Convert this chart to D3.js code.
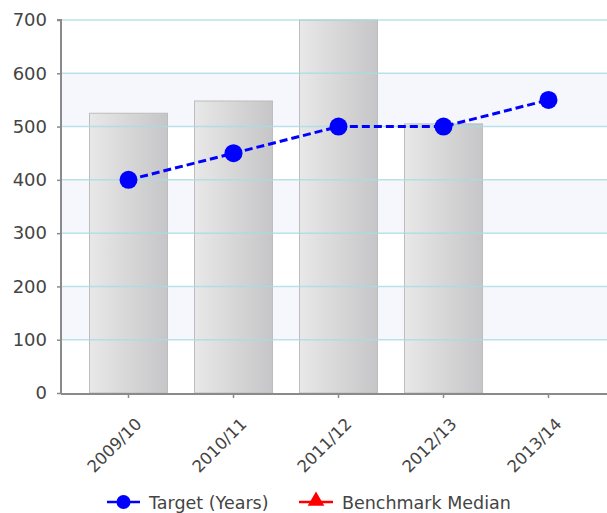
<!DOCTYPE html>
<html><head><meta charset="utf-8">
<script src="https://cdn.jsdelivr.net/npm/d3@7"></script>
<style>body{margin:0;background:#fff}svg{display:block}</style>
</head><body>
<svg id="c" width="607" height="513"></svg>
<script>
const categories = ["2009/10","2010/11","2011/12","2012/13","2013/14"];
const barValues = [525, 548, 700, 505, null];
const targetValues = [400, 450, 500, 500, 550];
const yTicks = [0,100,200,300,400,500,600,700];
const legendLabels = ["Target (Years)", "Benchmark Median"];

(function(){
const svg = d3.select("#c");
const pl = 61, pr = 607, pt = 20, pb = 393;
const x = d3.scaleBand().domain(categories).range([76, 601]);
const y = d3.scaleLinear().domain([0,700]).range([pb, pt]);
const font = "'DejaVu Sans', Verdana, sans-serif";

const defs = svg.append("defs");
const g = defs.append("linearGradient").attr("id","barg").attr("x1","0").attr("x2","1").attr("y1","0").attr("y2","0");
g.append("stop").attr("offset","0").attr("stop-color","#e8e8e8");
g.append("stop").attr("offset","1").attr("stop-color","#c6c6c8");

// alternating bands
for (let i = 1; i < yTicks.length - 1; i += 2) {
  svg.append("rect").attr("x", pl).attr("width", pr-pl)
    .attr("y", y(yTicks[i+1])).attr("height", y(yTicks[i]) - y(yTicks[i+1]))
    .attr("fill", "#f6f7fd");
}

// bars
const bw = 78;
svg.selectAll("rect.bar").data(categories.map((c,i)=>({c, v: barValues[i]})).filter(d=>d.v!=null))
  .enter().append("rect").attr("class","bar")
  .attr("x", d => x(d.c) + x.bandwidth()/2 - bw/2)
  .attr("width", bw)
  .attr("y", d => y(d.v)).attr("height", d => pb - y(d.v))
  .attr("fill", "url(#barg)").attr("stroke", "#bdbdbd").attr("stroke-width", 1);

// gridlines
svg.selectAll("line.grid").data(yTicks.filter(t=>t>0)).enter().append("line")
  .attr("x1", pl).attr("x2", pr).attr("y1", d=>y(d)).attr("y2", d=>y(d))
  .attr("stroke", "#a8dbe3").attr("stroke-width", 1.5).attr("stroke-opacity", 0.8);

// y axis
const yAxis = svg.append("g").attr("transform", `translate(${pl},0)`)
  .call(d3.axisLeft(y).tickValues(yTicks).tickSize(4).tickPadding(10));
yAxis.select(".domain").attr("stroke", "#8a8a8a").attr("stroke-width", 2).attr("d", `M-4,${pt}H0V${pb+1}`);
yAxis.selectAll(".tick line").attr("stroke", "#8a8a8a").attr("stroke-width", 1.5);
yAxis.selectAll("text").attr("font-family", font).attr("font-size", "18px").attr("fill", "#444");

// x axis
const xAxis = svg.append("g").attr("transform", `translate(0,${pb+1})`)
  .call(d3.axisBottom(x).tickSize(4).tickPadding(6));
xAxis.select(".domain").attr("stroke", "#8a8a8a").attr("stroke-width", 2).attr("d", `M${pl},0H${pr}`);
xAxis.selectAll(".tick line").attr("stroke", "#8a8a8a").attr("stroke-width", 1.5);
xAxis.selectAll("text").attr("font-family", font).attr("font-size", "16.5px").attr("fill", "#444")
  .attr("text-anchor", "end").attr("dy", "0.35em")
  .attr("transform", "translate(3,20) rotate(-45)");

// target line
const line = d3.line().x((d,i)=>x(categories[i]) + x.bandwidth()/2).y(d=>y(d));
svg.append("path").datum(targetValues).attr("d", line).attr("fill","none")
  .attr("stroke","#0000ff").attr("stroke-width",3).attr("stroke-dasharray","8,4");
svg.selectAll("circle.pt").data(targetValues).enter().append("circle")
  .attr("cx",(d,i)=>x(categories[i]) + x.bandwidth()/2).attr("cy", d=>y(d)).attr("r", 9).attr("fill","#0000ff");

// legend
const ly = 502;
const lg = svg.append("g");
lg.append("line").attr("x1",107).attr("x2",140).attr("y1",ly).attr("y2",ly).attr("stroke","#0000ff").attr("stroke-width",2.5);
lg.append("circle").attr("cx",123.5).attr("cy",ly).attr("r",7).attr("fill","#0000ff");
lg.append("text").attr("x",149).attr("y",ly).attr("dy","0.38em").attr("font-family",font).attr("font-size","17.5px").attr("fill","#444").text(legendLabels[0]);
lg.append("line").attr("x1",299).attr("x2",333).attr("y1",ly).attr("y2",ly).attr("stroke","#ff0000").attr("stroke-width",2.5);
lg.append("path").attr("d", d3.symbol().type(d3.symbolTriangle).size(120)()).attr("transform",`translate(316,${ly-1})`).attr("fill","#ff0000");
lg.append("text").attr("x",342).attr("y",ly).attr("dy","0.38em").attr("font-family",font).attr("font-size","17.5px").attr("fill","#444").text(legendLabels[1]);
})();
</script>
</body></html>
